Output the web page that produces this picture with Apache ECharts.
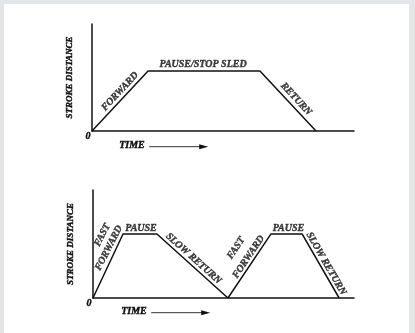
<!DOCTYPE html>
<html>
<head>
<meta charset="utf-8">
<script src="https://cdn.jsdelivr.net/npm/echarts@6/dist/echarts.min.js"></script>
<style>
  html, body { margin: 0; padding: 0; background: #e4e5e7; }
  #panel { position: absolute; left: 4px; top: 4px; width: 405px; height: 329px; background: #fff; }
  #chart { position: absolute; left: 0; top: 0; width: 415px; height: 333px; }
</style>
</head>
<body>
<div id="panel"></div>
<div id="chart"></div>
<script>
// top: continuous stroke with pause
const topTime = [0, 2.14, 6.41, 8.55];
const topStroke = [0, 5.61, 5.61, 0];
const topLabels = ['FORWARD', 'PAUSE/STOP SLED', 'RETURN'];
const topLabelX = [1.07, 4.24, 7.79];
const topLabelY = [3.69, 6.26, 2.99];
const topLabelRot = [47, 0, -47];

// bottom: fast forward / slow return, two cycles
const botTime = [0, 1.15, 2.45, 5.17, 6.82, 8.01, 9.43];
const botStroke = [0, 5.93, 5.93, 0, 5.93, 5.93, 0];
const botLabels = ['FAST', 'FORWARD', 'PAUSE', 'SLOW RETURN', 'FAST', 'FORWARD', 'PAUSE', 'SLOW RETURN'];
const botLabelX = [0.36, 0.61, 1.84, 3.85, 5.48, 5.96, 7.49, 8.93];
const botLabelY = [5.83, 4.63, 6.48, 3.66, 4.63, 3.80, 6.48, 3.19];
const botLabelRot = [63, 63, 0, -42, 56, 56, 0, -60];

const INK = '#111';
const FONT = 'Liberation Serif';
// heavier ink, like the scanned print
const heavy = { textBorderColor: INK, textBorderWidth: 0.4 };

const chart = echarts.init(document.getElementById('chart'));

function xAx(i) {
  return {
    gridIndex: i, type: 'value', min: 0, max: 10,
    axisLine: { show: true, onZero: false, lineStyle: { color: INK, width: 1.5 } },
    axisTick: { show: false }, axisLabel: { show: false }, splitLine: { show: false }
  };
}
function yAx(i) {
  return {
    gridIndex: i, type: 'value', min: 0, max: 10, interval: 10,
    name: 'STROKE DISTANCE', nameLocation: 'middle', nameRotate: 90, nameGap: 13,
    nameTextStyle: { fontFamily: FONT, fontStyle: 'italic', fontWeight: 'bold', fontSize: 9, color: INK, ...heavy },
    axisLine: { show: true, onZero: false, lineStyle: { color: INK, width: 1.5 } },
    axisTick: { show: false }, splitLine: { show: false },
    axisLabel: {
      formatter: v => v === 0 ? '0' : '', margin: 1.5, verticalAlign: 'top',
      fontFamily: FONT, fontStyle: 'italic', fontWeight: 'bold', fontSize: 10, color: INK, ...heavy
    }
  };
}
function labelSeries(i, names, xs, ys, rots) {
  return {
    type: 'scatter', xAxisIndex: i, yAxisIndex: i, symbolSize: 0, silent: true,
    data: names.map((n, k) => ({ name: n, value: [xs[k], ys[k]], label: { rotate: rots[k] } })),
    label: {
      show: true, position: 'inside', formatter: p => p.name,
      fontFamily: FONT, fontStyle: 'italic', fontWeight: 'bold', fontSize: 10, color: INK, ...heavy
    }
  };
}
function lineSeries(i, xs, ys) {
  return {
    type: 'line', xAxisIndex: i, yAxisIndex: i, symbol: 'none', silent: true,
    data: xs.map((t, k) => [t, ys[k]]),
    lineStyle: { color: INK, width: 1.5 }
  };
}
function timeArrow(x, y) {
  return {
    type: 'group', left: x, top: y - 6, silent: true,
    children: [
      { type: 'text', x: 0, y: 0, style: { text: 'TIME', fill: INK, stroke: INK, lineWidth: 0.4, font: 'italic bold 10px "Liberation Serif"' } },
      { type: 'line', shape: { x1: 30, y1: 6.5, x2: 83, y2: 6.5 }, style: { stroke: '#333', lineWidth: 1 } },
      { type: 'polygon', shape: { points: [[80, 4], [89, 6.5], [80, 9]] }, style: { fill: INK } }
    ]
  };
}

chart.setOption({
  animation: false,
  grid: [
    { left: 92, top: 24, width: 262, height: 107 },
    { left: 93, top: 190, width: 261, height: 108 }
  ],
  xAxis: [xAx(0), xAx(1)],
  yAxis: [yAx(0), yAx(1)],
  series: [
    lineSeries(0, topTime, topStroke),
    lineSeries(1, botTime, botStroke),
    labelSeries(0, topLabels, topLabelX, topLabelY, topLabelRot),
    labelSeries(1, botLabels, botLabelX, botLabelY, botLabelRot)
  ],
  graphic: [timeArrow(119, 146), timeArrow(121, 312)]
});
</script>
</body>
</html>
